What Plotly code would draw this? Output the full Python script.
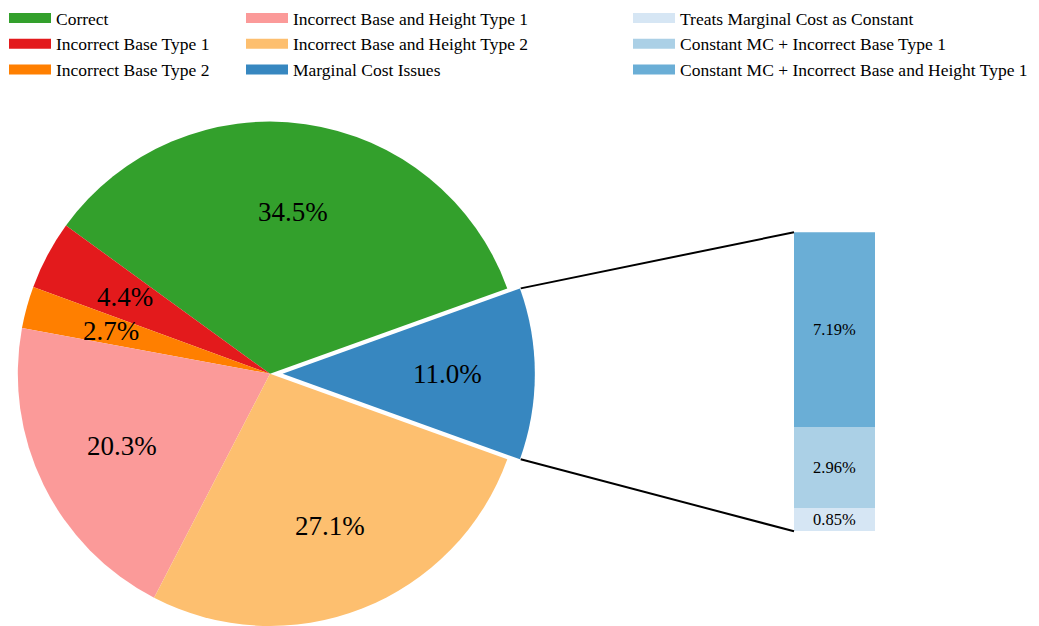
import math
import plotly.graph_objects as go

# ---------------- data ----------------
pie_labels = [
    "Correct",
    "Incorrect Base Type 1",
    "Incorrect Base Type 2",
    "Incorrect Base and Height Type 1",
    "Incorrect Base and Height Type 2",
    "Marginal Cost Issues",
]
pie_values = [34.5, 4.4, 2.7, 20.3, 27.1, 11.0]
pie_colors = ["#33a02c", "#e31a1c", "#ff7f00", "#fb9a99", "#fdbf6f", "#3787c0"]

bar_labels = [
    "Treats Marginal Cost as Constant",
    "Constant MC + Incorrect Base Type 1",
    "Constant MC + Incorrect Base and Height Type 1",
]
bar_values = [0.85, 2.96, 7.19]
bar_colors = ["#d6e6f4", "#abd0e6", "#6aaed6"]

# ---------------- layout constants ----------------
W, H = 1039, 626
FONT = "Liberation Serif"
CX, CY = 270, 373          # pie centre (px from top-left)
R = 253                    # pie radius (px)
EXPLODE = 0.05             # explode fraction for the detailed slice
PCT_DIST = 0.65
BAR_X0, BAR_X1 = 794, 875
BAR_Y_TOP, BAR_Y_BOT = 231, 531
ex_idx = pie_labels.index("Marginal Cost Issues")

total = sum(pie_values)
ex_span = pie_values[ex_idx] / total * 360.0
start = ex_span / 2.0      # math angle (CCW from 3 o'clock) where the first slice starts
angles = []
a = start
for v in pie_values:
    span = v / total * 360.0
    angles.append((a, a + span))
    a += span

# plotly rotation (clockwise from 12 o'clock); first slice ends at rotation going CCW
rotation = 90.0 - angles[0][1]

ex_mid = math.radians((angles[ex_idx][0] + angles[ex_idx][1]) / 2.0)
ex_dx = EXPLODE * R * math.cos(ex_mid)
ex_dy = EXPLODE * R * math.sin(ex_mid)


def px(x):
    return x / W


def py(y):
    return 1 - y / H


def clamp(v):
    return min(1.0, max(0.0, round(v, 6)))


domA = dict(x=[clamp(px(CX - R)), clamp(px(CX + R))],
            y=[clamp(py(CY + R)), clamp(py(CY - R))])
domB = dict(x=[clamp(px(CX - R + ex_dx)), clamp(px(CX + R + ex_dx))],
            y=[clamp(py(CY + R - ex_dy)), clamp(py(CY - R - ex_dy))])

fig = go.Figure()

colorsA = [c if i != ex_idx else "rgba(0,0,0,0)" for i, c in enumerate(pie_colors)]
colorsB = [c if i == ex_idx else "rgba(0,0,0,0)" for i, c in enumerate(pie_colors)]

for cols, dom in ((colorsA, domA), (colorsB, domB)):
    fig.add_trace(go.Pie(
        labels=pie_labels, values=pie_values, sort=False,
        direction="counterclockwise", rotation=rotation,
        marker=dict(colors=cols, line=dict(width=0)),
        textinfo="none", hoverinfo="label+percent",
        domain=dom, showlegend=False,
    ))

# stacked bar
for lab, val, col in zip(bar_labels, bar_values, bar_colors):
    fig.add_trace(go.Bar(
        x=[0], y=[val], name=lab, marker=dict(color=col, line=dict(width=0)),
        showlegend=False, xaxis="x", yaxis="y", width=1,
    ))

# connection lines (full-page axis in paper units)
bar_top = py(BAR_Y_TOP)
bar_bot = py(BAR_Y_BOT)
for ang, by in ((angles[ex_idx][1], bar_top), (angles[ex_idx][0], bar_bot)):
    t = math.radians(ang)
    x0 = CX + ex_dx + R * math.cos(t)
    y0 = CY - ex_dy - R * math.sin(t)
    fig.add_trace(go.Scatter(
        x=[px(x0), px(BAR_X0)], y=[py(y0), by], mode="lines",
        line=dict(color="black", width=2), showlegend=False,
        hoverinfo="skip", xaxis="x2", yaxis="y2",
    ))

# legend entries
legend_cols = [("legend", pie_labels[0:3], pie_colors[0:3]),
               ("legend2", pie_labels[3:6], pie_colors[3:6]),
               ("legend3", bar_labels, bar_colors)]
for lg, labs, cols in legend_cols:
    for lab, col in zip(labs, cols):
        fig.add_trace(go.Scatter(
            x=[None], y=[None], mode="lines", name=lab,
            line=dict(color=col, width=12), legend=lg,
            xaxis="x2", yaxis="y2", legendgroup=lab,
        ))

# pie percentage labels
annotations = []
for i, (a0, a1) in enumerate(angles):
    t = math.radians((a0 + a1) / 2.0)
    ox, oy = (ex_dx, ex_dy) if i == ex_idx else (0.0, 0.0)
    x = CX + ox + PCT_DIST * R * math.cos(t)
    y = CY - oy - PCT_DIST * R * math.sin(t)
    annotations.append(dict(
        x=px(x), y=py(y), xref="paper", yref="paper",
        text=f"{pie_values[i] / total * 100:.1f}%", showarrow=False,
        font=dict(family=FONT, size=27, color="black"),
        xanchor="center", yanchor="middle",
    ))

# bar labels
cum = 0.0
for val in bar_values:
    annotations.append(dict(
        x=0, y=cum + val / 2.0, xref="x", yref="y",
        text=f"{val:.2f}%", showarrow=False,
        font=dict(family=FONT, size=16.5, color="black"),
        xanchor="center", yanchor="middle",
    ))
    cum += val

leg_common = dict(
    orientation="v", xanchor="left", yanchor="top", y=1.0 + 2.5 / H,
    font=dict(family=FONT, size=17.5, color="black"),
    bgcolor="rgba(0,0,0,0)", borderwidth=0, itemwidth=42,
    traceorder="normal", tracegroupgap=0,
)

fig.update_layout(
    width=W, height=H, autosize=False,
    margin=dict(l=0, r=0, t=0, b=0),
    paper_bgcolor="white", plot_bgcolor="rgba(0,0,0,0)",
    font=dict(family=FONT, color="black"),
    barmode="stack", bargap=0,
    showlegend=True,
    legend=dict(x=px(4), **leg_common),
    legend2=dict(x=px(241), **leg_common),
    legend3=dict(x=px(628), **leg_common),
    xaxis=dict(domain=[px(BAR_X0), px(BAR_X1)], range=[-0.5, 0.5],
               visible=False, fixedrange=True),
    yaxis=dict(domain=[py(BAR_Y_BOT), py(BAR_Y_TOP)], range=[0, sum(bar_values)],
               visible=False, fixedrange=True),
    xaxis2=dict(domain=[0, 1], range=[0, 1], visible=False, anchor="y2",
                fixedrange=True),
    yaxis2=dict(domain=[0, 1], range=[0, 1], visible=False, anchor="x2",
                fixedrange=True),
    annotations=annotations,
)

fig.write_html("out.html")
